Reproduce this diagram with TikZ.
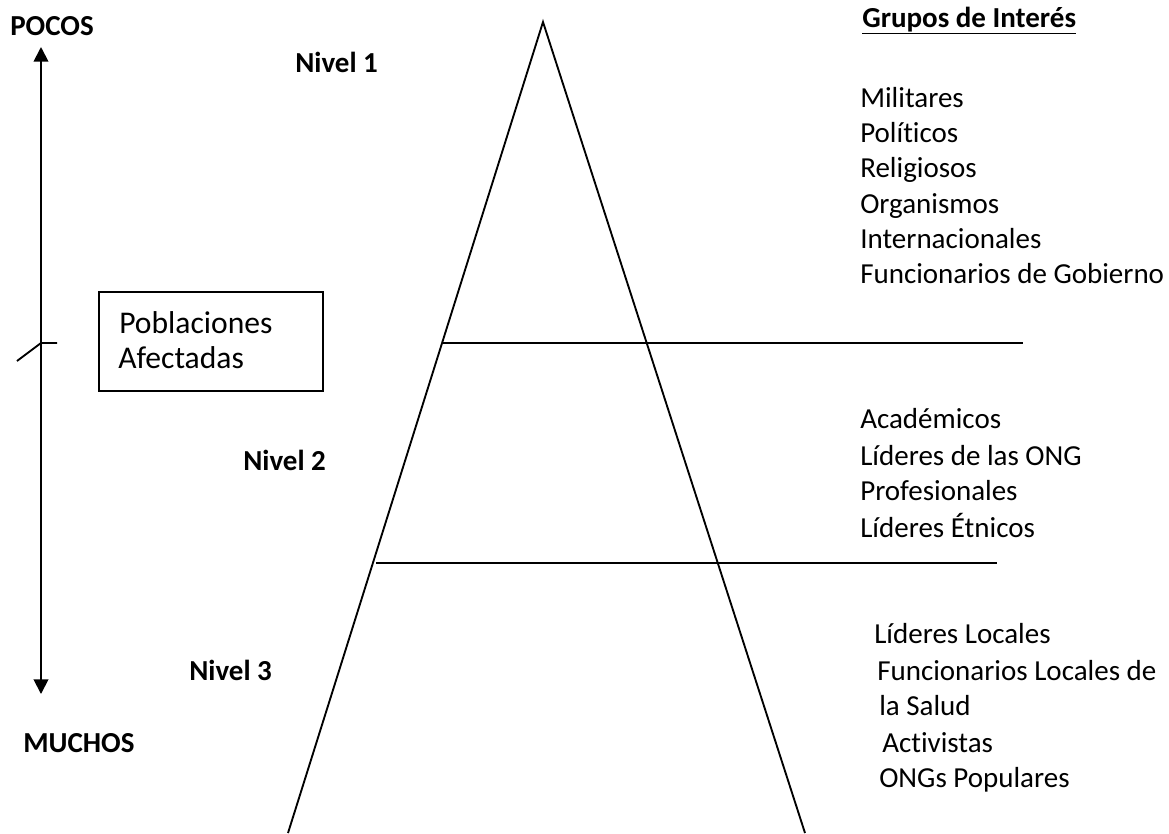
\documentclass[tikz,border=0pt]{standalone}
\usepackage{fontspec}
\setmainfont{Carlito}[Ligatures={NoCommon}]
\usetikzlibrary{arrows.meta}
\begin{document}
\begin{tikzpicture}[x=0.75pt,y=-0.75pt,
  ln/.style={line width=1.4pt,black},
  txt/.style={anchor=base west,inner sep=0pt,font=\fontsize{21.75}{26.5}\selectfont},
  btxt/.style={txt,font=\fontsize{21.75}{26.5}\selectfont\bfseries},
  boxtxt/.style={anchor=base west,inner sep=0pt,font=\fontsize{23.7}{28}\selectfont}]
\useasboundingbox (0,0) rectangle (1169,833);
% pyramid
\coordinate (apex) at (543,22);
\coordinate (bl) at (288,833);
\coordinate (br) at (805,833);
\draw[ln] (bl) -- (apex) -- (br);
\coordinate (l1a) at (442,343);
\coordinate (l1b) at (1023,343);
\coordinate (l2a) at (376,563);
\coordinate (l2b) at (997,563);
\draw[ln] (l1a) -- (l1b);
\draw[ln] (l2a) -- (l2b);
% vertical arrow
\coordinate (atop) at (41,47);
\coordinate (abot) at (41,694);
\draw[ln,{Triangle[width=11pt,length=11pt]}-{Triangle[width=11pt,length=11pt]}] (atop) -- (abot);
\coordinate (tk) at (41,343);
\coordinate (tkr) at (57,343);
\coordinate (tkd) at (17,361);
\draw[ln] (tkd) -- (tk) -- (tkr);
% box
\node[draw,line width=1.4pt,inner sep=0pt,minimum width=168pt,minimum height=74.25pt,anchor=north west] (boxr) at (98,291) {};
\node[boxtxt] (pob) at (119,333) {Poblaciones};
\node[boxtxt] (afe) at (118,368) {Afectadas};
% left labels
\node[btxt] (pocos) at (10,35) {POCOS};
\node[btxt] (muchos) at (23,752) {MUCHOS};
\node[btxt] (n1) at (295,72) {Nivel 1};
\node[btxt] (n2) at (243,470) {Nivel 2};
\node[btxt] (n3) at (189,680) {Nivel 3};
% right lists
\node[btxt] (gr) at (862,27) {\underline{Grupos de Interés}};
\node[txt] (a1) at (860,107) {Militares};
\node[txt] (a2) at (860,142) {Políticos};
\node[txt] (a3) at (860,177.5) {Religiosos};
\node[txt] (a4) at (860,213) {Organismos};
\node[txt] (a5) at (860,248) {Internacionales};
\node[txt] (a6) at (860,283.5) {Funcionarios de Gobierno};
\node[txt] (b1) at (860,428) {Académicos};
\node[txt] (b2) at (860,465) {Líderes de las ONG};
\node[txt] (b3) at (860,500) {Profesionales};
\node[txt] (b4) at (860,537) {Líderes Étnicos};
\node[txt] (c1) at (874,643) {Líderes Locales};
\node[txt] (c2) at (877,680) {Funcionarios Locales de};
\node[txt] (c3) at (879,715) {la Salud};
\node[txt] (c4) at (882,752) {Activistas};
\node[txt] (c5) at (879,787) {ONGs Populares};
\end{tikzpicture}
\end{document}
